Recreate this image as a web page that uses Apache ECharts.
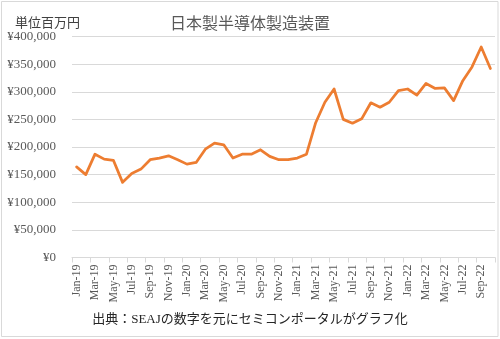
<!DOCTYPE html>
<html>
<head>
<meta charset="utf-8">
<script src="https://cdn.jsdelivr.net/npm/echarts@6/dist/echarts.min.js"></script>
<style>
  html, body { margin: 0; padding: 0; background: #fff; }
  #chart { width: 500px; height: 339px; }
</style>
</head>
<body>
<div id="chart"></div>
<script>
// Monthly shipments of Japanese-made semiconductor equipment (million yen)
const months = [
  'Jan-19','Feb-19','Mar-19','Apr-19','May-19','Jun-19','Jul-19','Aug-19','Sep-19','Oct-19','Nov-19','Dec-19',
  'Jan-20','Feb-20','Mar-20','Apr-20','May-20','Jun-20','Jul-20','Aug-20','Sep-20','Oct-20','Nov-20','Dec-20',
  'Jan-21','Feb-21','Mar-21','Apr-21','May-21','Jun-21','Jul-21','Aug-21','Sep-21','Oct-21','Nov-21','Dec-21',
  'Jan-22','Feb-22','Mar-22','Apr-22','May-22','Jun-22','Jul-22','Aug-22','Sep-22','Oct-22'
];
const shipments = [
  164000, 150000, 187000, 178000, 176000, 136000, 152000, 160000, 177000, 180000, 184000, 177000,
  169000, 172000, 196000, 207000, 204000, 180000, 187000, 187000, 195000, 183000, 177000, 177000,
  180000, 187000, 244000, 281000, 305000, 250000, 243000, 251000, 280000, 272000, 281000, 302000,
  305000, 294000, 315000, 306000, 307000, 284000, 320000, 345000, 381000, 342000
];
const yMin = 0, yMax = 400000, yStep = 50000;

const titleText = '日本製半導体製造装置';
const unitText = '単位百万円';
const sourceText = '出典：SEAJの数字を元にセミコンポータルがグラフ化';

const serif = '"Liberation Serif", "Noto Sans CJK JP", serif';
const cjk = '"Noto Sans CJK JP", "Liberation Serif", sans-serif';

const chart = echarts.init(document.getElementById('chart'), null, { renderer: 'canvas' });
chart.setOption({
  animation: false,
  backgroundColor: '#ffffff',
  grid: { left: 72, right: 5, top: 36.5, bottom: 81.5, containLabel: false },
  xAxis: {
    type: 'category',
    data: months,
    boundaryGap: true,
    axisLine: { show: true, lineStyle: { color: '#d9d9d9', width: 1 } },
    axisTick: { show: true, interval: 1, alignWithLabel: false, length: 5, lineStyle: { color: '#d9d9d9' } },
    axisLabel: {
      interval: 1, rotate: 90, margin: 7,
      color: '#595959', fontSize: 12, fontFamily: serif
    },
    splitLine: { show: false }
  },
  yAxis: {
    type: 'value',
    min: yMin, max: yMax, interval: yStep,
    axisLine: { show: false },
    axisTick: { show: false },
    axisLabel: {
      margin: 16, color: '#595959', fontSize: 13, fontFamily: serif,
      formatter: v => '¥' + v.toLocaleString('en-US')
    },
    splitLine: { show: true, lineStyle: { color: '#d9d9d9', width: 1 } }
  },
  series: [{
    type: 'line',
    data: shipments,
    showSymbol: false,
    symbol: 'none',
    lineStyle: { color: '#ED7D31', width: 2.75, join: 'round', cap: 'round' },
    itemStyle: { color: '#ED7D31' }
  }],
  graphic: [
    {
      type: 'rect', silent: true, z: -1,
      shape: { x: 1.5, y: 1.5, width: 496.5, height: 335 },
      style: { fill: 'none', stroke: '#d9d9d9', lineWidth: 1 }
    },
    {
      type: 'text', left: 'center', top: 15,
      style: { text: titleText, fill: '#595959', font: '16px ' + cjk }
    },
    {
      type: 'text', left: 15, top: 16,
      style: { text: unitText, fill: '#404040', font: '13px ' + cjk }
    },
    {
      type: 'text', left: 'center', top: 313,
      style: { text: sourceText, fill: '#262626', font: '13px ' + serif }
    }
  ]
});
</script>
</body>
</html>
